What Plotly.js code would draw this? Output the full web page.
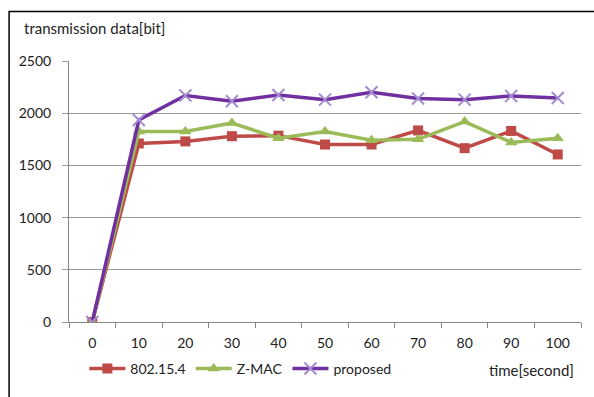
<!DOCTYPE html>
<html>
<head>
<meta charset="utf-8">
<script src="https://cdn.plot.ly/plotly-3.0.1.min.js"></script>
<style>html,body{margin:0;padding:0;background:#fff;}#chart{width:594px;height:397px;}</style>
</head>
<body>
<div id="chart"></div>
<script>
var timeLabels = ['0','10','20','30','40','50','60','70','80','90','100'];
var ieee802154 = [0,1710,1730,1780,1785,1700,1700,1835,1665,1830,1605];
var zmac = [0,1825,1825,1905,1760,1825,1740,1750,1920,1720,1760];
var proposed = [0,1935,2170,2115,2175,2130,2200,2140,2130,2165,2145];
var seriesNames = ['802.15.4','Z-MAC','proposed'];

var FONT = 'Lato, "Open Sans", sans-serif';
var traces = [
  {x: timeLabels, y: ieee802154, name: seriesNames[0], mode: 'lines+markers',
   line: {color: '#BE4B48', width: 3.5},
   marker: {symbol: 'square', size: 10, color: '#BE4B48'}},
  {x: timeLabels, y: zmac, name: seriesNames[1], mode: 'lines+markers',
   line: {color: '#9BBB59', width: 3.5},
   marker: {symbol: 'triangle-up', size: 11, color: '#9BBB59'}},
  {x: timeLabels, y: proposed, name: seriesNames[2], mode: 'lines+markers',
   line: {color: '#7030A0', width: 3.5},
   marker: {symbol: 'x-thin', size: 12, line: {color: '#A48CD0', width: 2}, color: '#A48CD0'}}
];

var layout = {
  width: 594, height: 397,
  margin: {l: 69, r: 13, t: 61, b: 73},
  paper_bgcolor: '#ffffff', plot_bgcolor: '#ffffff',
  font: {family: FONT, size: 14, color: '#222'},
  showlegend: true,
  legend: {orientation: 'h', x: 0.03, xanchor: 'left', y: -0.18, yanchor: 'middle',
           font: {family: FONT, size: 14, color: '#222'}, itemwidth: 36, traceorder: 'normal'},
  xaxis: {type: 'category', range: [-0.5, 10.5], tickson: 'boundaries',
          ticks: 'outside', ticklen: 5, tickcolor: '#888', ticklabelstandoff: 8,
          showline: true, linecolor: '#888', linewidth: 1,
          showgrid: false, zeroline: false, fixedrange: true,
          tickfont: {family: FONT, size: 14, color: '#222'}},
  yaxis: {range: [0, 2500], dtick: 500, ticks: 'outside', ticklen: 6, tickcolor: '#999',
          ticklabelstandoff: 8,
          showline: true, linecolor: '#888', linewidth: 1,
          showgrid: true, gridcolor: '#9a9a9a', gridwidth: 1, zeroline: false,
          tickfont: {family: FONT, size: 14, color: '#222'}},
  annotations: [
    {text: 'transmission data[bit]', xref: 'paper', yref: 'paper', x: -0.092, y: 1.125,
     xanchor: 'left', yanchor: 'middle', showarrow: false, font: {family: FONT, size: 15, color: '#222'}},
    {text: 'time[second]', xref: 'paper', yref: 'paper', x: 0.99, y: -0.185,
     xanchor: 'right', yanchor: 'middle', showarrow: false, font: {family: FONT, size: 15, color: '#222'}}
  ],
  shapes: [
    {type: 'rect', xref: 'paper', yref: 'paper', x0: -0.117, x1: 1.3, y0: -0.6, y1: 1.19,
     line: {color: '#000', width: 1.5}, fillcolor: 'rgba(0,0,0,0)', layer: 'below'}
  ]
};
Plotly.newPlot('chart', traces, layout, {displayModeBar: false, staticPlot: true});
</script>
</body>
</html>
